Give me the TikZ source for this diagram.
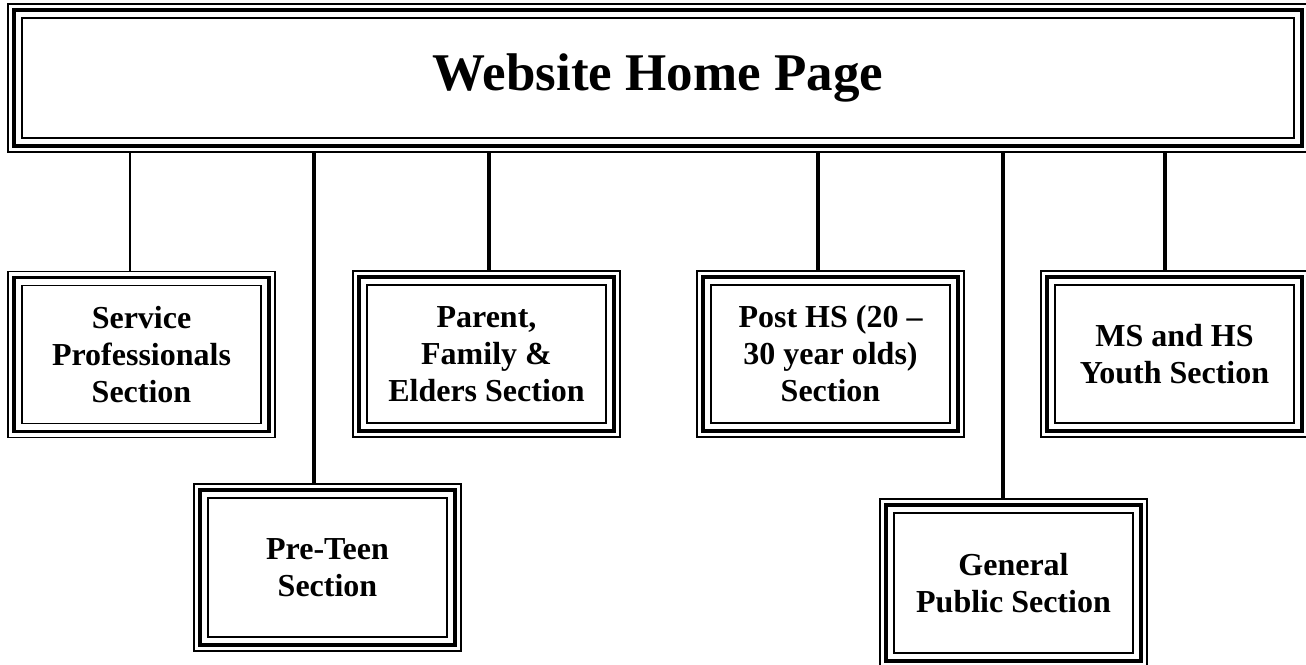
\documentclass[tikz,border=0pt]{standalone}
\usepackage{fontspec}
\setmainfont{Liberation Serif}
\begin{document}
\begin{tikzpicture}[x=1pt,y=-1pt,
  tribox/.style={rectangle, draw=black, line width=3.8pt, outer sep=6pt, inner sep=0pt,
    align=center, font=\fontsize{32}{37}\selectfont\bfseries,
    minimum width=255pt, minimum height=154pt},
  thinline/.style={line width=1.9pt},
  conn/.style={line width=3.2pt},
  connthin/.style={line width=2.3pt}]
\fill[white] (0,0) rectangle (1306,664);
\useasboundingbox (0,0) rectangle (1306,664);

\node[tribox, minimum width=1288pt, minimum height=136pt,
  font=\fontsize{53}{60}\selectfont\bfseries] (home) at (658,78) {Website Home Page};
\node[tribox] (sp) at (141.5,354.5) {Service\\Professionals\\Section};
\node[tribox, minimum height=155pt] (pt) at (327.5,567.5) {Pre-Teen\\Section};
\node[tribox] (pf) at (486.5,354) {Parent,\\Family \&\\Elders Section};
\node[tribox] (ph) at (830.5,354) {Post HS (20 --\\30 year olds)\\Section};
\node[tribox, minimum height=156pt] (gp) at (1013.5,583) {\raisebox{-5pt}{\parbox{250pt}{\centering General\\Public Section}}};
\node[tribox] (ms) at (1174.5,354) {\raisebox{-3pt}{\parbox{250pt}{\centering MS and HS\\Youth Section}}};

\foreach \n in {home,sp,pt,pf,ph,gp,ms}{
  \draw[thinline] (\n.south west) rectangle (\n.north east);
  \draw[thinline] ([shift={(14pt,14pt)}]\n.south west) rectangle ([shift={(-14pt,-14pt)}]\n.north east);
}

\draw[connthin] ([xshift=-11.5pt]sp.north) -- ([xshift=-11.5pt]sp.north |- home.south);
\draw[conn] ([xshift=-13.5pt]pt.north) -- ([xshift=-13.5pt]pt.north |- home.south);
\draw[conn] ([xshift=2.5pt]pf.north) -- ([xshift=2.5pt]pf.north |- home.south);
\draw[conn] ([xshift=-12.5pt]ph.north) -- ([xshift=-12.5pt]ph.north |- home.south);
\draw[conn] ([xshift=-10.5pt]gp.north) -- ([xshift=-10.5pt]gp.north |- home.south);
\draw[conn] ([xshift=-9.5pt]ms.north) -- ([xshift=-9.5pt]ms.north |- home.south);
\end{tikzpicture}
\end{document}
